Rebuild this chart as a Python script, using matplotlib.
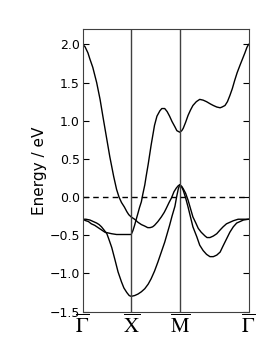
import matplotlib
matplotlib.use('Agg')
import matplotlib.pyplot as plt

plt.rcParams['mathtext.fontset'] = 'stix'

# high-symmetry points along the path (square lattice: G-X = X-M = 1, M-G = sqrt 2)
kpoint_pos = [0.0, 1.0, 2.0, 3.414]
kpoint_labels = [r'$\overline{\Gamma}$', r'$\overline{\mathrm{X}}$',
                 r'$\overline{\mathrm{M}}$', r'$\overline{\Gamma}$']

# band 1: Gamma (2.0) -> X -> M
band1_k = [0, 0.05, 0.11, 0.15, 0.21, 0.29, 0.36, 0.42, 0.49, 0.56, 0.64, 0.70, 0.75, 0.80,
           0.86, 0.91, 0.95, 1.0, 1.07, 1.14, 1.21, 1.28, 1.34, 1.39, 1.44, 1.48, 1.55, 1.62,
           1.68, 1.72, 1.78, 1.83, 1.88, 1.93, 1.97, 2.0]
band1_e = [2.00, 1.97, 1.89, 1.81, 1.70, 1.50, 1.28, 1.05, 0.79, 0.53, 0.27, 0.10, 0.0, -0.07,
           -0.13, -0.19, -0.23, -0.26, -0.29, -0.33, -0.36, -0.38, -0.40, -0.40, -0.39, -0.37,
           -0.32, -0.26, -0.20, -0.15, -0.07, -0.01, 0.07, 0.12, 0.15, 0.16]

# band 2: Gamma (-0.29) -> X (-1.30) -> M
band2_k = [0, 0.07, 0.15, 0.22, 0.29, 0.34, 0.39, 0.44, 0.50, 0.54, 0.60, 0.67, 0.73, 0.80,
           0.85, 0.91, 0.96, 1.0, 1.07, 1.14, 1.21, 1.28, 1.35, 1.41, 1.48, 1.55, 1.62, 1.69,
           1.74, 1.79, 1.84, 1.90, 1.94, 1.97, 2.0]
band2_e = [-0.29, -0.29, -0.30, -0.32, -0.34, -0.36, -0.39, -0.43, -0.48, -0.55, -0.66, -0.83,
           -0.98, -1.11, -1.19, -1.25, -1.29, -1.30, -1.29, -1.27, -1.24, -1.20, -1.14, -1.07,
           -0.97, -0.85, -0.72, -0.59, -0.48, -0.37, -0.25, -0.12, 0.02, 0.11, 0.16]

# band 3: Gamma (-0.29) -> X (-0.49) -> M (0.85) -> Gamma (2.0)
band3_k = [0, 0.07, 0.12, 0.18, 0.25, 0.32, 0.39, 0.46, 0.53, 0.60, 0.70, 0.80, 0.91, 1.0,
           1.035, 1.07, 1.10, 1.14, 1.17, 1.21, 1.24, 1.28, 1.31, 1.35, 1.41, 1.48, 1.53, 1.59,
           1.63, 1.69, 1.74, 1.79, 1.84, 1.90, 1.94, 2.0, 2.04, 2.07, 2.12, 2.17, 2.22, 2.27,
           2.34, 2.41, 2.48, 2.55, 2.63, 2.69, 2.76, 2.83, 2.87, 2.93, 2.98, 3.03, 3.08, 3.13,
           3.18, 3.24, 3.29, 3.34, 3.38, 3.414]
band3_e = [-0.29, -0.31, -0.32, -0.35, -0.37, -0.40, -0.43, -0.46, -0.47, -0.48, -0.49, -0.49,
           -0.49, -0.49, -0.44, -0.37, -0.30, -0.21, -0.14, -0.06, 0.04, 0.16, 0.28, 0.43, 0.68,
           0.94, 1.06, 1.13, 1.16, 1.16, 1.12, 1.06, 0.99, 0.92, 0.87, 0.85, 0.87, 0.90, 0.98,
           1.07, 1.14, 1.20, 1.25, 1.28, 1.27, 1.25, 1.22, 1.20, 1.18, 1.17, 1.18, 1.20, 1.25,
           1.33, 1.42, 1.53, 1.63, 1.73, 1.81, 1.89, 1.96, 2.00]

# bands 4 and 5: M (0.16) -> Gamma (-0.29)
band4_k = [2.0, 2.04, 2.07, 2.12, 2.17, 2.22, 2.27, 2.33, 2.38, 2.44, 2.52, 2.56, 2.62, 2.69,
           2.76, 2.83, 2.89, 2.96, 3.03, 3.10, 3.20, 3.31, 3.414]
band4_e = [0.16, 0.14, 0.11, 0.05, -0.04, -0.15, -0.26, -0.34, -0.41, -0.46, -0.51, -0.53,
           -0.53, -0.51, -0.48, -0.43, -0.39, -0.35, -0.33, -0.31, -0.29, -0.29, -0.29]
band5_k = [2.0, 2.04, 2.07, 2.12, 2.17, 2.22, 2.27, 2.35, 2.41, 2.48, 2.55, 2.62, 2.69, 2.76,
           2.83, 2.89, 2.96, 3.03, 3.10, 3.17, 3.24, 3.31, 3.414]
band5_e = [0.16, 0.13, 0.09, -0.01, -0.13, -0.26, -0.39, -0.52, -0.63, -0.70, -0.75, -0.78,
           -0.78, -0.76, -0.72, -0.64, -0.55, -0.46, -0.39, -0.34, -0.32, -0.30, -0.29]

bands = [(band1_k, band1_e), (band2_k, band2_e), (band3_k, band3_e),
         (band4_k, band4_e), (band5_k, band5_e)]

fig = plt.figure(figsize=(2.78, 3.47), dpi=100)
ax = fig.add_axes([0.297, 0.102, 0.597, 0.814])

for k, e in bands:
    ax.plot(k, e, color='k', lw=1.0)

# vertical lines at the inner high-symmetry points, Fermi level dashed
for x in kpoint_pos[1:-1]:
    ax.axvline(x, color='0.25', lw=1.0)
ax.axhline(0.0, color='k', lw=1.0, ls='--', dashes=(4, 3))

ax.set_xlim(kpoint_pos[0], kpoint_pos[-1])
ax.set_ylim(-1.5, 2.2)
ax.set_xticks(kpoint_pos)
ax.set_xticklabels(kpoint_labels, fontsize=15)
ax.set_yticks([-1.5, -1.0, -0.5, 0.0, 0.5, 1.0, 1.5, 2.0])
ax.tick_params(axis='y', direction='in', right=True, length=4, labelsize=9, pad=2)
ax.tick_params(axis='x', length=0, pad=1)
for s in ax.spines.values():
    s.set_color('0.25')
ax.set_ylabel('Energy / eV', fontsize=11, labelpad=2)

fig.savefig('out.png', dpi=100)
